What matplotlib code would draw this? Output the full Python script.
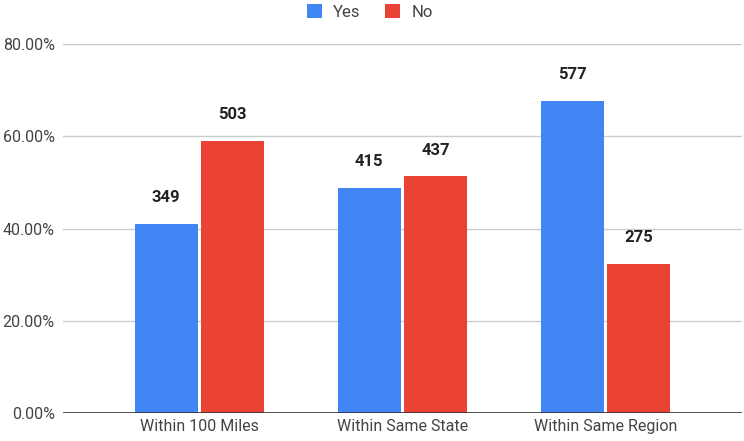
import numpy as np
import matplotlib
matplotlib.use("Agg")
from matplotlib import pyplot as plt
from matplotlib.ticker import FuncFormatter

plt.rcParams['font.family'] = ['Roboto', 'DejaVu Sans']

# data
categories = ['Within 100 Miles', 'Within Same State', 'Within Same Region']
yes_counts = [349, 415, 577]
no_counts = [503, 437, 275]
yes_pct = [40.96, 48.71, 67.72]
no_pct = [59.04, 51.29, 32.28]
series_names = ['Yes', 'No']

blue = '#4285F4'
red = '#EA4335'

fig = plt.figure(figsize=(7.44, 4.41), dpi=100)
ax = fig.add_axes([0.0847, 0.0635, 0.9123, 0.8367])

x = np.arange(len(categories))
w = 0.31
off = 0.163
b1 = ax.bar(x - off, yes_pct, w, color=blue, label=series_names[0], zorder=3)
b2 = ax.bar(x + off, no_pct, w, color=red, label=series_names[1], zorder=3)

for bars, counts in [(b1, yes_counts), (b2, no_counts)]:
    for b, c in zip(bars, counts):
        ax.annotate(str(c), (b.get_x() + b.get_width() / 2, b.get_height()),
                    xytext=(0, 19), textcoords='offset points',
                    ha='center', va='center', fontsize=12, fontweight='bold',
                    color='#222222')

ax.set_xlim(-0.67, 2.67)
ax.set_ylim(0, 80)
ax.set_yticks([0, 20, 40, 60, 80])
ax.yaxis.set_major_formatter(FuncFormatter(lambda v, p: f'{v:.2f}%'))
ax.set_xticks(x)
ax.set_xticklabels(categories)
ax.tick_params(axis='both', length=0, labelsize=11.5, colors='#444444')
ax.tick_params(axis='y', pad=6)
ax.tick_params(axis='x', pad=4)

ax.grid(axis='y', color='#cccccc', linewidth=1, zorder=0)
ax.axhline(0, color='#333333', linewidth=1.2, zorder=4)
for s in ax.spines.values():
    s.set_visible(False)

leg = fig.legend(handles=[b1, b2], labels=series_names, loc='upper center',
                 bbox_to_anchor=(0.497, 1.025), ncol=2, frameon=False,
                 fontsize=12, handlelength=0.9, handleheight=0.9,
                 columnspacing=1.5, handletextpad=0.65)
for t in leg.get_texts():
    t.set_color('#444444')

fig.savefig('out.png', dpi=100)
